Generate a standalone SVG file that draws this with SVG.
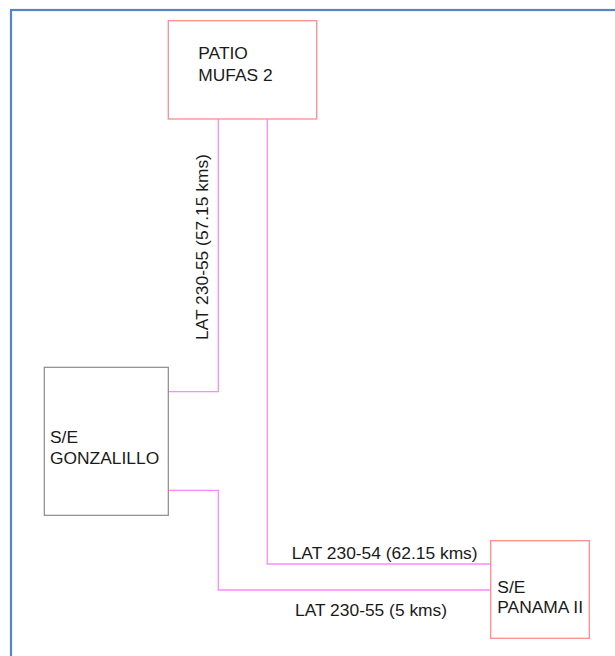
<svg xmlns="http://www.w3.org/2000/svg" width="615" height="656" viewBox="0 0 615 656">
<style>
.frame{fill:none;stroke:#5585C4;stroke-width:2.2}
.red{fill:#fff;stroke:#FF8C8C;stroke-width:1.3}
.grey{fill:#fff;stroke:#8A8A8A;stroke-width:1.2}
.wire{fill:none;stroke:#FF88FF;stroke-width:1.3}
text{font-family:"Liberation Sans",Arial,sans-serif;font-size:17.4px;fill:#1a1a1a}
</style>
<rect width="615" height="656" fill="#fff"/>
<rect class="frame" x="11" y="10" width="620" height="660"/>
<g id="connectors">
<polyline class="wire" points="218.3,119 218.3,391.7 168.3,391.7"/>
<polyline class="wire" points="267.3,119 267.3,564 490.7,564"/>
<polyline class="wire" points="168.3,490.3 218.3,490.3 218.3,590 490.7,590"/>
<text x="291.7" y="559">LAT 230-54 (62.15 kms)</text>
<text x="295" y="616">LAT 230-55 (5 kms)</text>
<text transform="translate(207.5,340) rotate(-90)">LAT 230-55 (57.15 kms)</text>
</g>
<g id="patio">
<rect class="red" x="168.3" y="20.7" width="148.4" height="98.3"/>
<text x="198.3" y="59.3">PATIO</text>
<text x="198.3" y="81">MUFAS 2</text>
</g>
<g id="gonzalillo">
<rect class="grey" x="44.3" y="367.3" width="124" height="148"/>
<text x="50" y="443.3">S/E</text>
<text x="50" y="464">GONZALILLO</text>
</g>
<g id="panama">
<rect class="red" x="490.7" y="540.7" width="98.6" height="97.6"/>
<text x="497.3" y="592.7">S/E</text>
<text x="497.3" y="613.3">PANAMA II</text>
</g>
</svg>
